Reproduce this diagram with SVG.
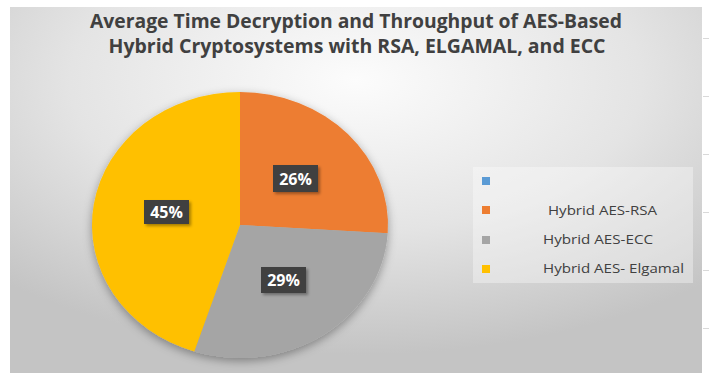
<svg xmlns="http://www.w3.org/2000/svg" width="709" height="373" viewBox="0 0 709 373">
  <defs>
    <radialGradient id="bg" cx="0.5" cy="0.2" r="0.75" fx="0.5" fy="0.2">
      <stop offset="0" stop-color="#fcfcfc"/>
      <stop offset="0.55" stop-color="#e4e4e4"/>
      <stop offset="1" stop-color="#c4c4c4"/>
    </radialGradient>
    <filter id="pieShadow" x="-20%" y="-20%" width="140%" height="140%">
      <feDropShadow dx="0" dy="3" stdDeviation="5" flood-color="#000" flood-opacity="0.35"/>
    </filter>
    <filter id="boxShadow" x="-20%" y="-30%" width="150%" height="170%">
      <feDropShadow dx="2" dy="2" stdDeviation="1.5" flood-color="#000" flood-opacity="0.35"/>
    </filter>
  </defs>
  <style>
    .title { font-family: "Open Sans", "Noto Sans", "Liberation Sans", sans-serif; font-weight: 700; font-size: 20px; fill: #404040; text-anchor: middle; }
    .legend { font-family: "Open Sans", "Noto Sans", "Liberation Sans", sans-serif; font-size: 13px; fill: #404040; }
    .lbl { font-family: "Open Sans", "Noto Sans", "Liberation Sans", sans-serif; font-weight: 700; font-size: 16px; fill: #ffffff; text-anchor: middle; }
    .lblbox { fill: #404040; filter: url(#boxShadow); }
    .tick { stroke: #d9d9d9; stroke-width: 1; }
  </style>

  <!-- page background -->
  <rect x="0" y="0" width="709" height="373" fill="#ffffff"/>
  <!-- chart area -->
  <rect x="10" y="7" width="692" height="366" fill="url(#bg)"/>

  <!-- axis stubs at right edge -->
  <g id="ticks">
    <line class="tick" x1="703" y1="38.5" x2="709" y2="38.5"/>
    <line class="tick" x1="703" y1="96.5" x2="709" y2="96.5"/>
    <line class="tick" x1="703" y1="154.5" x2="709" y2="154.5"/>
    <line class="tick" x1="703" y1="212.5" x2="709" y2="212.5"/>
    <line class="tick" x1="703" y1="270.5" x2="709" y2="270.5"/>
    <line class="tick" x1="703" y1="328.5" x2="709" y2="328.5"/>
  </g>

  <!-- title -->
  <g id="title">
    <text class="title" x="356" y="28" textLength="532" lengthAdjust="spacingAndGlyphs">Average Time Decryption and Throughput of AES-Based</text>
    <text class="title" x="357" y="53" textLength="497" lengthAdjust="spacingAndGlyphs">Hybrid Cryptosystems with RSA, ELGAMAL, and ECC</text>
  </g>

  <!-- pie: centre (240,225), rx 148, ry 133 -->
  <g id="pie" filter="url(#pieShadow)">
    <g id="slice-rsa">
      <path d="M240,225 L240,92 A148,133 0 0 1 387.7,233.3 Z" fill="#ED7D31"/>
    </g>
    <g id="slice-ecc">
      <path d="M240,225 L387.7,233.3 A148,133 0 0 1 194.3,351.5 Z" fill="#A5A5A5"/>
    </g>
    <g id="slice-elgamal">
      <path d="M240,225 L194.3,351.5 A148,133 0 0 1 240,92 Z" fill="#FFC000"/>
    </g>
  </g>

  <!-- data labels -->
  <g id="label-rsa">
    <rect class="lblbox" x="273" y="165" width="45" height="27"/>
    <text class="lbl" x="295.5" y="184.5">26%</text>
  </g>
  <g id="label-ecc">
    <rect class="lblbox" x="261" y="267" width="45" height="26"/>
    <text class="lbl" x="283.5" y="286">29%</text>
  </g>
  <g id="label-elgamal">
    <rect class="lblbox" x="144" y="200" width="45" height="24"/>
    <text class="lbl" x="166.5" y="218">45%</text>
  </g>

  <!-- legend -->
  <g id="legend">
    <rect x="473" y="167" width="220" height="116" fill="#ffffff" fill-opacity="0.35"/>
    <g id="legend-blank">
      <rect x="482" y="177" width="8" height="8" fill="#5B9BD5"/>
    </g>
    <g id="legend-rsa">
      <rect x="482" y="206" width="8" height="8" fill="#ED7D31"/>
      <text class="legend" x="548" y="215" textLength="109" lengthAdjust="spacingAndGlyphs">Hybrid AES-RSA</text>
    </g>
    <g id="legend-ecc">
      <rect x="482" y="236" width="8" height="8" fill="#A5A5A5"/>
      <text class="legend" x="543" y="244" textLength="110" lengthAdjust="spacingAndGlyphs">Hybrid AES-ECC</text>
    </g>
    <g id="legend-elgamal">
      <rect x="482" y="265" width="8" height="8" fill="#FFC000"/>
      <text class="legend" x="543" y="273" textLength="141" lengthAdjust="spacingAndGlyphs">Hybrid AES- Elgamal</text>
    </g>
  </g>
</svg>
